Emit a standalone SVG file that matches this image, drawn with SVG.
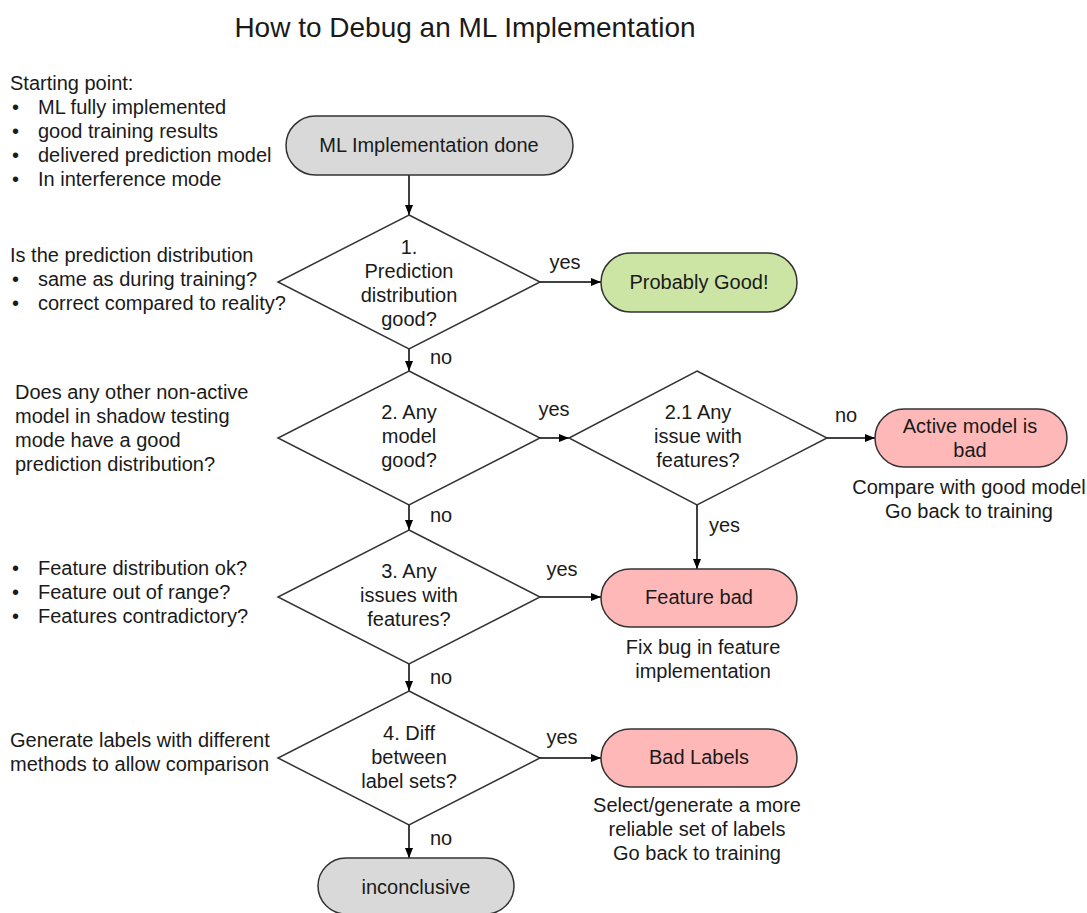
<svg xmlns="http://www.w3.org/2000/svg" width="1087" height="913" viewBox="0 0 1087 913">
<defs>
<marker id="arr" markerWidth="10" markerHeight="8" refX="10" refY="4" orient="auto" markerUnits="userSpaceOnUse">
<path d="M0,0 L10,4 L0,8 z" fill="#000"/>
</marker>
<style>
text{font-family:"Liberation Sans",Arial,sans-serif;font-size:20px;fill:#1a1a1a}
.c{text-anchor:middle}
.title{font-size:28px}
.pill{stroke:#333;stroke-width:1.5}
.gray{fill:#d9d9d9}
.green{fill:#cce5a4}
.pink{fill:#ffb8b8}
.dia{fill:#fff;stroke:#333;stroke-width:1.5}
.con{stroke:#000;stroke-width:1.5;fill:none;marker-end:url(#arr)}
</style>
</defs>
<rect width="1087" height="913" fill="#fff"/>
<text class="c title" x="465" y="37">How to Debug an ML Implementation</text>

<g id="note-start">
<text x="10" y="90">Starting point:</text>
<text x="12" y="114">•</text><text x="38" y="114">ML fully implemented</text>
<text x="12" y="138">•</text><text x="38" y="138">good training results</text>
<text x="12" y="162">•</text><text x="38" y="162">delivered prediction model</text>
<text x="12" y="186">•</text><text x="38" y="186">In interference mode</text>
</g>
<g id="note-1">
<text x="10" y="262">Is the prediction distribution</text>
<text x="12" y="286">•</text><text x="38" y="286">same as during training?</text>
<text x="12" y="310">•</text><text x="38" y="310">correct compared to reality?</text>
</g>
<g id="note-2">
<text x="15" y="399">Does any other non-active</text>
<text x="15" y="423">model in shadow testing</text>
<text x="15" y="447">mode have a good</text>
<text x="15" y="471">prediction distribution?</text>
</g>
<g id="note-3">
<text x="12" y="575">•</text><text x="38" y="575">Feature distribution ok?</text>
<text x="12" y="599">•</text><text x="38" y="599">Feature out of range?</text>
<text x="12" y="623">•</text><text x="38" y="623">Features contradictory?</text>
</g>
<g id="note-4">
<text x="10" y="747">Generate labels with different</text>
<text x="10" y="771">methods to allow comparison</text>
</g>

<g id="connectors">
<line class="con" x1="409" y1="175" x2="409" y2="215"/>
<line class="con" x1="540" y1="282" x2="601" y2="282"/>
<line class="con" x1="409" y1="349" x2="409" y2="371"/>
<line class="con" x1="540" y1="438" x2="569" y2="438"/>
<line class="con" x1="827" y1="438" x2="875" y2="438"/>
<line class="con" x1="697" y1="505" x2="697" y2="569"/>
<line class="con" x1="409" y1="505" x2="409" y2="530"/>
<line class="con" x1="540" y1="597" x2="601" y2="597"/>
<line class="con" x1="409" y1="664" x2="409" y2="691"/>
<line class="con" x1="540" y1="758" x2="601" y2="758"/>
<line class="con" x1="409" y1="825" x2="409" y2="858"/>
<text class="c" x="565" y="269">yes</text>
<text x="430" y="364">no</text>
<text class="c" x="554" y="416">yes</text>
<text class="c" x="846" y="422">no</text>
<text x="709" y="532">yes</text>
<text x="430" y="522">no</text>
<text class="c" x="562" y="576">yes</text>
<text x="430" y="684">no</text>
<text class="c" x="562" y="744">yes</text>
<text x="430" y="845">no</text>
</g>

<g id="start">
<rect class="pill gray" x="286" y="116" width="287" height="59" rx="29.5"/>
<text class="c" x="429" y="152">ML Implementation done</text>
</g>
<g id="d1">
<polygon class="dia" points="409,215 540,282 409,349 278,282"/>
<text class="c" x="409" y="254">1.</text>
<text class="c" x="409" y="278">Prediction</text>
<text class="c" x="409" y="302">distribution</text>
<text class="c" x="409" y="326">good?</text>
</g>
<g id="good">
<rect class="pill green" x="601" y="253" width="196" height="59" rx="29.5"/>
<text class="c" x="699" y="289">Probably Good!</text>
</g>
<g id="d2">
<polygon class="dia" points="409,371 540,438 409,505 278,438"/>
<text class="c" x="409" y="419">2. Any</text>
<text class="c" x="409" y="443">model</text>
<text class="c" x="409" y="467">good?</text>
</g>
<g id="d21">
<polygon class="dia" points="697,371 827,438 697,505 569,438"/>
<text class="c" x="698" y="419">2.1 Any</text>
<text class="c" x="698" y="443">issue with</text>
<text class="c" x="698" y="467">features?</text>
</g>
<g id="active-bad">
<rect class="pill pink" x="875" y="409" width="192" height="58" rx="29"/>
<text class="c" x="970" y="433">Active model is</text>
<text class="c" x="970" y="457">bad</text>
<text class="c" x="969" y="494">Compare with good model</text>
<text class="c" x="969" y="518">Go back to training</text>
</g>
<g id="d3">
<polygon class="dia" points="409,530 540,597 409,664 278,597"/>
<text class="c" x="409" y="578">3. Any</text>
<text class="c" x="409" y="602">issues with</text>
<text class="c" x="409" y="626">features?</text>
</g>
<g id="feature-bad">
<rect class="pill pink" x="601" y="569" width="196" height="58" rx="29"/>
<text class="c" x="699" y="604">Feature bad</text>
<text class="c" x="703" y="654">Fix bug in feature</text>
<text class="c" x="703" y="678">implementation</text>
</g>
<g id="d4">
<polygon class="dia" points="409,691 540,758 409,825 278,758"/>
<text class="c" x="409" y="740">4. Diff</text>
<text class="c" x="409" y="764">between</text>
<text class="c" x="409" y="788">label sets?</text>
</g>
<g id="bad-labels">
<rect class="pill pink" x="601" y="729" width="196" height="58" rx="29"/>
<text class="c" x="699" y="764">Bad Labels</text>
<text class="c" x="697" y="812">Select/generate a more</text>
<text class="c" x="697" y="836">reliable set of labels</text>
<text class="c" x="697" y="860">Go back to training</text>
</g>
<g id="inconclusive">
<rect class="pill gray" x="318" y="858" width="196" height="56" rx="28"/>
<text class="c" x="416" y="894">inconclusive</text>
</g>
</svg>
